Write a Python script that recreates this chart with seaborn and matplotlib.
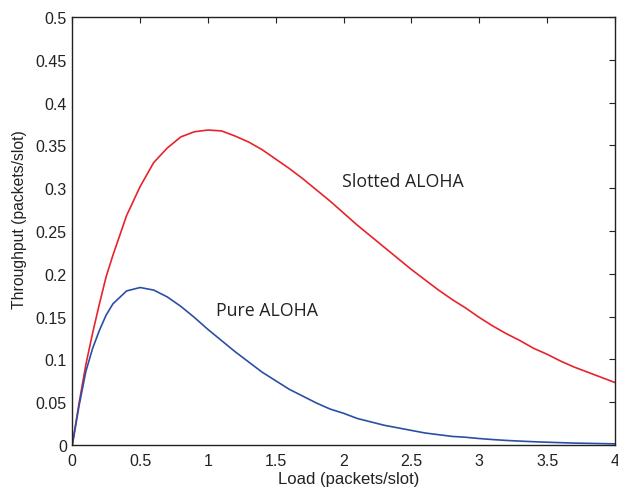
import numpy as np
import pandas as pd
import seaborn as sns
import matplotlib.pyplot as plt

# load values (packets/slot)
load = [0.0, 0.05, 0.1, 0.15, 0.2, 0.25, 0.3, 0.4, 0.5, 0.6, 0.7, 0.8, 0.9,
        1.0, 1.1, 1.2, 1.3, 1.4, 1.5, 1.6, 1.7, 1.8, 1.9,
        2.0, 2.1, 2.2, 2.3, 2.4, 2.5, 2.6, 2.7, 2.8, 2.9,
        3.0, 3.1, 3.2, 3.3, 3.4, 3.5, 3.6, 3.7, 3.8, 3.9, 4.0]

# throughput
slotted = [0.0, 0.049, 0.094, 0.131, 0.165, 0.197, 0.222, 0.268, 0.302, 0.330, 0.347, 0.360, 0.366,
           0.368, 0.367, 0.361, 0.354, 0.345, 0.334, 0.323, 0.311, 0.298, 0.285,
           0.271, 0.257, 0.244, 0.231, 0.218, 0.205, 0.193, 0.181, 0.170, 0.160,
           0.149, 0.139, 0.130, 0.122, 0.113, 0.106, 0.098, 0.091, 0.085, 0.079, 0.073]
pure = [0.0, 0.046, 0.086, 0.113, 0.134, 0.152, 0.165, 0.180, 0.184, 0.181, 0.173, 0.162, 0.149,
        0.135, 0.122, 0.109, 0.097, 0.085, 0.075, 0.065, 0.057, 0.049, 0.042,
        0.037, 0.031, 0.027, 0.023, 0.020, 0.017, 0.014, 0.012, 0.010, 0.009,
        0.0075, 0.0063, 0.0053, 0.0045, 0.0038, 0.0032, 0.0027, 0.0022, 0.0019, 0.0016, 0.0013]

xticks = [0, 0.5, 1, 1.5, 2, 2.5, 3, 3.5, 4]
yticks = [0, 0.05, 0.1, 0.15, 0.2, 0.25, 0.3, 0.35, 0.4, 0.45, 0.5]

df = pd.DataFrame({"load": load, "Slotted ALOHA": slotted, "Pure ALOHA": pure})

sns.set_style("white")
plt.rcParams['font.family'] = ['Liberation Sans', 'DejaVu Sans']

fig = plt.figure(figsize=(6.18, 4.89), dpi=100)
ax = fig.add_axes([0.117, 0.088, 0.878, 0.875])

sns.lineplot(data=df, x="load", y="Slotted ALOHA", color="#e8232b", lw=1.2, ax=ax)
sns.lineplot(data=df, x="load", y="Pure ALOHA", color="#2b4ea6", lw=1.2, ax=ax)

ax.set_xlim(0, 4)
ax.set_ylim(0, 0.5)
ax.set_xticks(xticks)
ax.set_xticklabels([f"{t:g}" for t in xticks])
ax.set_yticks(yticks)
ax.set_yticklabels([f"{t:g}" for t in yticks])
ax.tick_params(direction="in", top=True, right=True, length=4, width=0.8,
               labelsize=11.5, colors="#222222", pad=4)
ax.tick_params(axis="x", pad=6)
for s in ax.spines.values():
    s.set_color("#222222")
    s.set_linewidth(1.0)

ax.set_xlabel("Load (packets/slot)", family=['Liberation Sans', 'DejaVu Sans'],
              fontsize=12, color="#222222")
ax.set_ylabel("Throughput (packets/slot)", family=['Liberation Sans', 'DejaVu Sans'],
              fontsize=11.3, color="#222222")
ax.xaxis.set_label_coords(0.51, -0.06)
ax.yaxis.set_label_coords(-0.084, 0.53)

ann_font = dict(family=['Open Sans', 'DejaVu Sans'], fontsize=12.8, color="#222222")
ax.text(1.99, 0.309, "Slotted ALOHA", va="center", ha="left", **ann_font)
ax.text(1.06, 0.158, "Pure ALOHA", va="center", ha="left", **ann_font)

fig.savefig("out.png", dpi=100)
